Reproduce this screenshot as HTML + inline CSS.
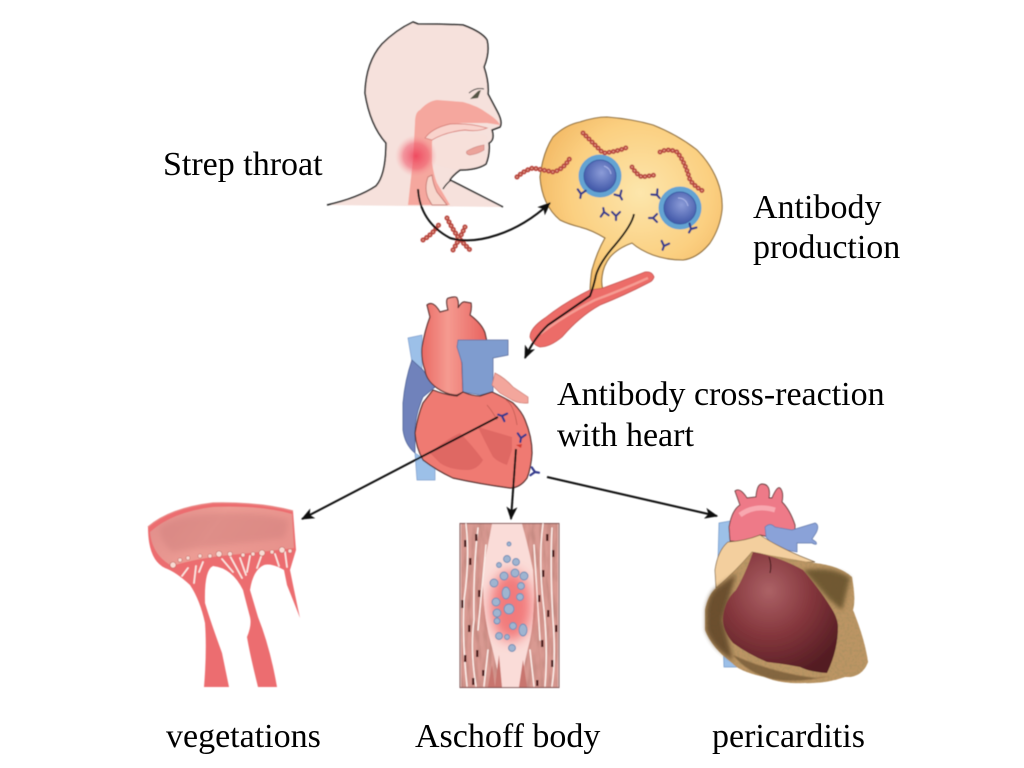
<!DOCTYPE html>
<html><head><meta charset="utf-8"><style>
html,body{margin:0;padding:0;background:#fff}svg{display:block}
text{font-family:"Liberation Serif",serif;font-size:34px;fill:#000}
</style></head><body>
<svg width="1024" height="768" viewBox="0 0 1024 768" xmlns="http://www.w3.org/2000/svg">
<defs>
<filter id="b" x="-5%" y="-5%" width="110%" height="110%"><feGaussianBlur stdDeviation="0.5"/></filter>
<filter id="b2" x="-20%" y="-20%" width="140%" height="140%"><feGaussianBlur stdDeviation="2"/></filter>
<filter id="b3" x="-30%" y="-30%" width="160%" height="160%"><feGaussianBlur stdDeviation="3"/></filter>
<filter id="b5" x="-30%" y="-30%" width="160%" height="160%"><feGaussianBlur stdDeviation="6"/></filter>
<radialGradient id="glow"><stop offset="0" stop-color="#ee3b55" stop-opacity=".85"/><stop offset=".6" stop-color="#f0566a" stop-opacity=".55"/><stop offset="1" stop-color="#f6a0a0" stop-opacity="0"/></radialGradient>
<radialGradient id="node" cx=".55" cy=".42" r=".65"><stop offset="0" stop-color="#fde6ac"/><stop offset=".6" stop-color="#fbcf80"/><stop offset="1" stop-color="#f0b25c"/></radialGradient>
<radialGradient id="nuc" cx=".55" cy=".4" r=".6"><stop offset="0" stop-color="#8c9cd8"/><stop offset="1" stop-color="#4158a8"/></radialGradient>
<radialGradient id="dh" cx=".4" cy=".32" r=".75"><stop offset="0" stop-color="#ac6266"/><stop offset=".5" stop-color="#84363c"/><stop offset="1" stop-color="#521c22"/></radialGradient>
<linearGradient id="ao" x1="0" x2="1" y1="0" y2="0"><stop offset="0" stop-color="#ea6a64"/><stop offset=".4" stop-color="#f59a90"/><stop offset="1" stop-color="#e8625e"/></linearGradient>
<linearGradient id="vt" x1="0" x2="1" y1="0" y2=".3"><stop offset="0" stop-color="#df8d8a"/><stop offset=".5" stop-color="#ec9c94"/><stop offset="1" stop-color="#e8938d"/></linearGradient>
<filter id="sac" x="0" y="0" width="100%" height="100%"><feTurbulence type="fractalNoise" baseFrequency="0.4" numOctaves="2" seed="4" result="n"/><feColorMatrix in="n" values="0 0 0 0 .42  0 0 0 0 .28  0 0 0 0 .12  0 0 0 2.4 -.85" result="c"/><feComposite in="c" in2="SourceGraphic" operator="in" result="t"/><feMerge><feMergeNode in="SourceGraphic"/><feMergeNode in="t"/></feMerge></filter>
<filter id="mus" x="0" y="0" width="100%" height="100%"><feTurbulence type="fractalNoise" baseFrequency="0.25 0.05" numOctaves="2" seed="9" result="n"/><feColorMatrix in="n" values="0 0 0 0 .55  0 0 0 0 .25  0 0 0 0 .22  0 0 0 2.4 -.9" result="c"/><feComposite in="c" in2="SourceGraphic" operator="in" result="t"/><feMerge><feMergeNode in="SourceGraphic"/><feMergeNode in="t"/></feMerge></filter>
<marker id="ar" viewBox="0 0 12 10" refX="11" refY="5" markerWidth="14" markerHeight="11" markerUnits="userSpaceOnUse" orient="auto"><path d="M0 0L12 5L0 10L3 5Z" fill="#111"/></marker>
<g id="ab"><path d="M0 0L0 4M0 0L-4-4M0 0L4-4" stroke="#343a8c" stroke-width="2.2" fill="none" stroke-linecap="round"/></g>
<path id="ch" d="M517 177Q525 170 533 168Q543 170 553 172Q563 170 570 158M583 133Q592 142 603 153Q616 152 628 147M632 167Q636 174 642 177L655 175M660 152Q668 148 677 152Q685 162 690 180Q696 188 705 192M423 240Q433 234 440 223M447 218Q452 228 458 237Q464 244 470 250M465 227Q460 238 453 250"/>
</defs>

<g filter="url(#b)">
<!-- HEAD -->
<path d="M327 205Q358 198 376 186Q386 175 386 143Q370 125 365 93Q366 62 382 44Q396 30 413 22L418 24Q445 24 463 25Q482 32 487 40Q490 52 484 67Q489 82 488 94L497 111Q503 122 500 127L492 130Q495 140 489 143Q490 154 486 164Q477 170 460 170Q452 176 450 180L503 207Z" fill="#f6e1dc"/>
<path d="M415 123Q415 112 420 110Q428 101 437 100L463 102Q478 106 487 113Q498 120 500 125L487 123H463Q448 124 437 130Q432 136 432 143V163Q434 176 437 183L450 205H408L413 160Z" fill="#f5a79e"/>
<path d="M425 138Q432 128 450 124Q470 123 487 128Q478 132 465 130Q445 132 432 140Z" fill="#f9d3cc" stroke="#d9837d" stroke-width=".9"/>
<path d="M432 143Q440 134 470 134Q484 134 487 136L486 148Q484 146 478 146L467 150Q464 155 475 155L484 152L487 163Q470 170 460 170Q443 168 433 163Z" fill="#f7e0da"/>
<path d="M467 151Q476 146 484 145V150Q478 154 470 155Q465 154 467 151Z" fill="#eba39a" stroke="#cf8a84" stroke-width=".7"/>
<path d="M428 177Q424 188 428 198L432 205H447L437 192Q433 184 432 175Z" fill="#f7d6cc" stroke="#c97f78" stroke-width="1"/>
<path d="M327 205Q358 198 376 186Q386 175 386 143Q370 125 365 93Q366 62 382 44Q396 30 413 22L418 24Q445 24 463 25Q482 32 487 40Q490 52 484 67Q489 82 488 94L497 111Q503 122 500 127L492 130Q495 140 489 143Q490 154 486 164Q477 170 460 170Q452 176 450 180L503 207" fill="none" stroke="#222" stroke-width="1.5" stroke-linejoin="round"/>
<path d="M451 180Q446 184 443 189" stroke="#222" stroke-width="1.3" fill="none"/>
<circle cx="416" cy="156" r="21" fill="url(#glow)"/>
<path d="M470 99L478 91L481 90L478 98Z" fill="#554"/>
<path d="M469 93Q476 87 484 89" stroke="#333" fill="none"/>

<!-- LYMPH NODE -->
<path d="M540 177Q543 152 553 137Q565 125 580 122Q595 117 607 117Q632 119 653 125Q678 135 697 150Q710 163 717 180Q723 195 722 210Q720 228 710 243Q698 258 683 260Q667 260 653 255Q640 250 632 243Q618 248 610 257Q603 266 602 277Q601 284 603 290L590 297Q590 282 592 270Q597 252 605 238Q592 230 580 227Q568 224 560 220Q542 205 540 177Z" fill="url(#node)"/>
<path d="M590 297Q590 282 592 270Q597 252 605 238Q592 230 580 227Q568 224 560 220Q542 205 540 177Q543 152 553 137Q565 125 580 122Q595 117 607 117Q632 119 653 125Q678 135 697 150Q710 163 717 180Q723 195 722 210Q720 228 710 243Q698 258 683 260Q667 260 653 255Q640 250 632 243Q618 248 610 257Q603 266 602 277Q601 284 603 290" fill="none" stroke="#8c6b3a" stroke-width="1.1"/>
<path d="M530 337Q530 328 545 318Q565 302 590 290L603 288Q625 280 645 272Q652 271 654 277Q653 281 648 283Q625 295 600 305Q580 316 562 337Q550 347 540 347Q533 345 530 337Z" fill="#ec6c68" stroke="#c65855" stroke-width=".8"/>
<path d="M540 334Q565 315 595 300Q622 290 648 278" stroke="#f59b93" stroke-width="2.5" fill="none"/>
<circle cx="600" cy="176" r="21.5" fill="#64a3d2"/><circle cx="600" cy="176" r="16" fill="url(#nuc)" stroke="#3a5ba4" stroke-width="1"/>
<path d="M604 166Q610 168 611 174" stroke="#aab6e8" fill="none"/>
<circle cx="680" cy="208" r="21.5" fill="#64a3d2"/><circle cx="680" cy="208" r="16" fill="url(#nuc)" stroke="#3a5ba4" stroke-width="1"/>
<path d="M678 198Q686 198 688 206" stroke="#aab6e8" fill="none"/>
<use href="#ab" x="581" y="194" transform="rotate(10 581 194)"/><use href="#ab" x="620" y="196" transform="rotate(-30 620 196)"/>
<use href="#ab" x="604" y="212" transform="rotate(170 604 212)"/><use href="#ab" x="616" y="216"/>
<use href="#ab" x="657" y="195" transform="rotate(-40 657 195)"/><use href="#ab" x="653" y="218" transform="rotate(90 653 218)"/>
<use href="#ab" x="691" y="229" transform="rotate(30 691 229)"/><use href="#ab" x="664" y="246" transform="rotate(20 664 246)"/>
<use href="#ch" fill="none" stroke="#b8463f" stroke-width="5" stroke-linecap="round" stroke-dasharray=".1 4.2"/>
<use href="#ch" fill="none" stroke="#e6a08c" stroke-width="1.6" stroke-linecap="round" stroke-dasharray=".1 4.2"/>
<path d="M418 189Q420 222 450 238Q470 244 497 235Q525 226 550 203" fill="none" stroke="#111" stroke-width="2" marker-end="url(#ar)"/>
<path d="M634 214Q632 225 615 245Q600 262 596 275Q594 285 590 296Q570 310 548 325Q534 338 525 358" fill="none" stroke="#111" stroke-width="2" marker-end="url(#ar)"/>

<!-- HEART -->
<path d="M408 338L422 335V372L412 362Z" fill="#9cc0e8" stroke="#7c9ccc" stroke-width=".7"/>
<path d="M415 453L417 480H435V466Z" fill="#9cc0e8" stroke="#7c9ccc" stroke-width=".7"/>
<path d="M412 360L423 370L435 387L423 397Q415 415 415 433V453Q405 445 403 430V403Q405 380 412 360Z" fill="#6f82bb" stroke="#4b5f94" stroke-width=".8"/>
<path d="M427 305Q433 300 440 312L448 310Q445 298 449 298Q456 296 457 298Q459 302 458 308Q462 301 465 302L471 303Q472 308 470 315Q482 324 485 333L487 342L460 345L462 363L463 392L457 395Q447 395 437 388Q426 380 425 370Q421 360 422 347Q425 330 430 317Z" fill="url(#ao)" stroke="#5a3030" stroke-width="1.2"/>
<path d="M458 340H508V355L493 358V392L480 395L463 392L462 363L457 347Z" fill="#7f9ccf" stroke="#5d6e9e" stroke-width=".8"/>
<path d="M433 390Q445 395 457 396L463 392Q472 396 480 396L492 392Q505 398 513 403Q522 412 525 420Q532 437 532 453Q531 468 527 478Q520 488 510 488Q480 484 453 478Q436 470 423 460Q416 447 415 433Q418 415 423 403Z" fill="#ef7a72" stroke="#4d2a2a" stroke-width="1.2" stroke-linejoin="round"/>
<path d="M495 373Q505 378 513 387L528 397V403Q520 404 512 400L500 393L492 385Z" fill="#f3a69c" stroke="#c97a72" stroke-width=".7"/>
<path d="M430 453Q445 440 460 433Q472 445 483 460Q477 470 467 470Q450 470 440 463Z" fill="#d9605c" opacity=".7"/>
<path d="M478 427L512 437V450L507 465Q498 462 493 457Q484 440 478 427Z" fill="#d9605c" opacity=".7"/>
<path d="M487 405Q493 412 497 420M506 400Q514 405 517 425" stroke="#c05a52" stroke-width=".8" fill="none"/>
<use href="#ab" x="502" y="416" transform="rotate(110 502 416)"/>
<use href="#ab" x="521" y="438" transform="rotate(10 521 438)"/>
<path d="M516 445L522 444L521 448Z" fill="#d23a30"/>
<use href="#ab" x="535" y="472" transform="rotate(-80 535 472)"/>
<path d="M498 417L302 519" stroke="#111" stroke-width="2" fill="none" marker-end="url(#ar)"/>
<path d="M516 449L511 519" stroke="#111" stroke-width="2" fill="none" marker-end="url(#ar)"/>
<path d="M547 477L717 516" stroke="#111" stroke-width="2" fill="none" marker-end="url(#ar)"/>

<!-- VEGETATIONS -->
<path d="M148 527Q170 508 213 503Q260 502 293 511L296 550L290 570Q295 595 300 618Q293 600 287 585L284 570Q272 563 264 565Q253 570 250 590L258 617Q270 647 277 687H258Q250 655 247 637Q252 625 250 617Q245 598 243 590Q232 568 213 566Q204 570 205 603Q210 620 222 653L229 687H204Q207 650 205 623Q200 600 190 585Q176 572 165 568Q148 560 148 527Z" fill="#ec6d70"/>
<path d="M150 532Q172 512 213 507Q260 505 292 514L294 548Q262 552 220 556Q190 560 172 566Q152 555 150 532Z" fill="url(#vt)"/>
<path d="M160 528Q175 516 215 513Q262 511 288 520Q288 530 284 538Q240 544 200 548L172 552Q160 542 160 528Z" fill="#cc7c79" opacity=".4" filter="url(#b3)"/>
<path d="M148 527Q170 508 213 503Q260 502 293 511" fill="none" stroke="#e98a88" stroke-width="1.3"/>
<g stroke="#fbe7e3" stroke-width="1.7" stroke-linecap="round" fill="none">
<path d="M188 568L182 576M196 566L194 583M203 562L199 572M222 559L233 572M230 556L242 578M240 558L246 575M250 556L247 572M262 554L257 568M275 554L279 566M285 552L287 567"/>
</g>
<g fill="#f8dcd4" stroke="#c06a64" stroke-width=".6">
<circle cx="173" cy="565" r="3"/><circle cx="180" cy="560" r="2"/><circle cx="188" cy="558" r="2"/><circle cx="200" cy="556" r="2"/><circle cx="210" cy="556" r="2"/><circle cx="219" cy="554" r="3"/><circle cx="230" cy="554" r="2.4"/><circle cx="243" cy="555" r="2"/><circle cx="253" cy="554" r="2"/><circle cx="262" cy="553" r="3"/><circle cx="272" cy="552" r="2"/><circle cx="282" cy="550" r="3"/><circle cx="290" cy="551" r="2"/>
</g>

<!-- ASCHOFF -->
<rect x="460" y="523.5" width="99" height="164" fill="#fadcd8" stroke="#7a4848" stroke-width="1"/>
<g filter="url(#mus)">
<path d="M461 524H492Q488 545 483 570Q482 610 490 640Q497 665 500 687H461Z" fill="#d99a92"/>
<path d="M522 524H558V687H520Q525 660 530 640Q536 610 533 570Q528 545 522 524Z" fill="#d99a92"/>
</g>
<g stroke="#fdeee9" stroke-width="1.5" fill="none" stroke-linecap="round">
<path d="M466 524Q470 560 464 600Q462 640 467 686"/><path d="M478 528Q473 570 474 620Q470 650 476 686"/><path d="M486 545L478 630"/><path d="M488 650L484 686"/>
<path d="M543 524Q538 560 544 610Q548 650 545 686"/><path d="M552 528Q550 570 553 620Q556 660 552 686"/><path d="M534 545L540 640"/><path d="M530 650L534 686"/>
</g>
<g fill="#c8756e"><path d="M495 687L499 655L502 687Z"/><path d="M519 687L523 660L527 687Z"/><path d="M488 687L492 665L495 687Z"/></g>
<g fill="#4e1c1c">
<rect x="464" y="540" width="2.4" height="7"/><rect x="469" y="558" width="2.4" height="7"/><rect x="475" y="534" width="2.4" height="7"/><rect x="461" y="600" width="2.4" height="8"/><rect x="478" y="590" width="2.4" height="7"/><rect x="468" y="625" width="2.4" height="7"/><rect x="476" y="650" width="2.4" height="7"/><rect x="464" y="655" width="2.4" height="7"/><rect x="482" y="670" width="2.4" height="6"/><rect x="472" y="678" width="2.4" height="7"/>
<rect x="546" y="534" width="2.4" height="7"/><rect x="552" y="550" width="2.4" height="7"/><rect x="542" y="570" width="2.4" height="7"/><rect x="538" y="595" width="2.4" height="7"/><rect x="547" y="610" width="2.4" height="7"/><rect x="555" y="625" width="2.4" height="7"/><rect x="541" y="640" width="2.4" height="7"/><rect x="551" y="660" width="2.4" height="7"/><rect x="536" y="680" width="2.4" height="6"/>
</g>
<ellipse cx="511" cy="606" rx="21" ry="35" fill="#f16a6c" opacity=".85" filter="url(#b5)"/>
<g fill="#9fb4d0" stroke="#6d8cb5" stroke-width=".9">
<circle cx="509" cy="544" r="2"/><circle cx="507" cy="559" r="3.5"/><circle cx="516" cy="562" r="3.5"/><circle cx="499" cy="565" r="2.5"/><circle cx="515" cy="573" r="4"/><circle cx="504" cy="576" r="4"/><circle cx="524" cy="576" r="4"/><circle cx="494" cy="583" r="4"/><circle cx="521" cy="586" r="3.5"/><ellipse cx="506" cy="593" rx="4" ry="6"/><circle cx="520" cy="597" r="3.5"/><circle cx="496" cy="602" r="4"/><circle cx="509" cy="609" r="5"/><circle cx="497" cy="613" r="4"/><circle cx="497" cy="621" r="3"/><circle cx="513" cy="626" r="3.5"/><ellipse cx="523" cy="630" rx="4" ry="6"/><circle cx="499" cy="636" r="3.5"/><circle cx="507" cy="637" r="2.5"/><circle cx="512" cy="648" r="3.5"/>
</g>

<!-- PERICARDITIS -->
<path d="M719 523L730 521V550L718 560Z" fill="#9cc0e8" stroke="#7398c8" stroke-width=".7"/>
<path d="M723 640H737L741 667H724Z" fill="#9cc0e8" stroke="#7398c8" stroke-width=".7"/>
<path d="M735 491Q740 487 747 498L756 497Q757 484 762 484Q771 484 769 498H772Q777 486 780 488Q784 492 782 502Q790 510 795 525Q795 548 785 540L760 535Q745 543 730 541L729 527Q732 510 740 505Z" fill="#ee7a88" stroke="#5a3030" stroke-width=".9"/>
<path d="M740 515Q755 504 775 510" stroke="#f8a8b0" stroke-width="5" fill="none"/>
<path d="M765 527Q770 522 775 527L792 530L815 523Q820 525 816 533L812 539L816 542Q818 546 812 543L797 543L797 552L775 548L766 537Z" fill="#8aa2d8" stroke="#5f76a8" stroke-width=".7"/>
<path d="M728 542Q745 541 760 535Q775 545 800 556L815 562L790 562Q770 555 752 552Q735 572 716 588L715 570Q718 550 728 542Z" fill="#f3cf9e" stroke="#7a6040" stroke-width=".7"/>
<path d="M705 610Q708 595 716 588Q735 572 752 552Q780 557 815 563Q840 566 852 577Q856 600 853 610Q865 640 868 662Q862 678 845 677Q825 684 805 683Q780 684 765 677Q740 672 732 663Q712 648 705 630Z" fill="#bd9565" filter="url(#sac)"/>
<path d="M706 610Q708 595 716 588L736 574L723 620L733 660Q712 648 706 630Z" fill="#5f4526" opacity=".85" filter="url(#b2)"/>
<path d="M803 570Q835 566 850 578L842 610L830 600Z" fill="#5e4b28" opacity=".8" filter="url(#b2)"/>
<path d="M733 655Q770 672 815 678L830 676Q790 685 765 677Q745 670 733 655Z" fill="#6e5230" opacity=".7" filter="url(#b)"/>
<path d="M753 552Q780 557 803 570Q820 590 830 606Q838 618 838 627Q838 650 827 673Q810 672 800 667Q785 664 767 662Q748 654 733 643Q722 630 723 617Q725 600 736 590Q745 575 753 552Z" fill="url(#dh)"/>
<path d="M769 557Q772 565 770 573" stroke="#3a1414" stroke-width="1" fill="none"/>
</g>

<text x="163" y="175">Strep throat</text>
<text x="753" y="218">Antibody</text>
<text x="753" y="258">production</text>
<text x="557" y="405">Antibody cross-reaction</text>
<text x="557" y="446">with heart</text>
<text x="166" y="747">vegetations</text>
<text x="415" y="747">Aschoff body</text>
<text x="712" y="747">pericarditis</text>
</svg>
</body></html>
